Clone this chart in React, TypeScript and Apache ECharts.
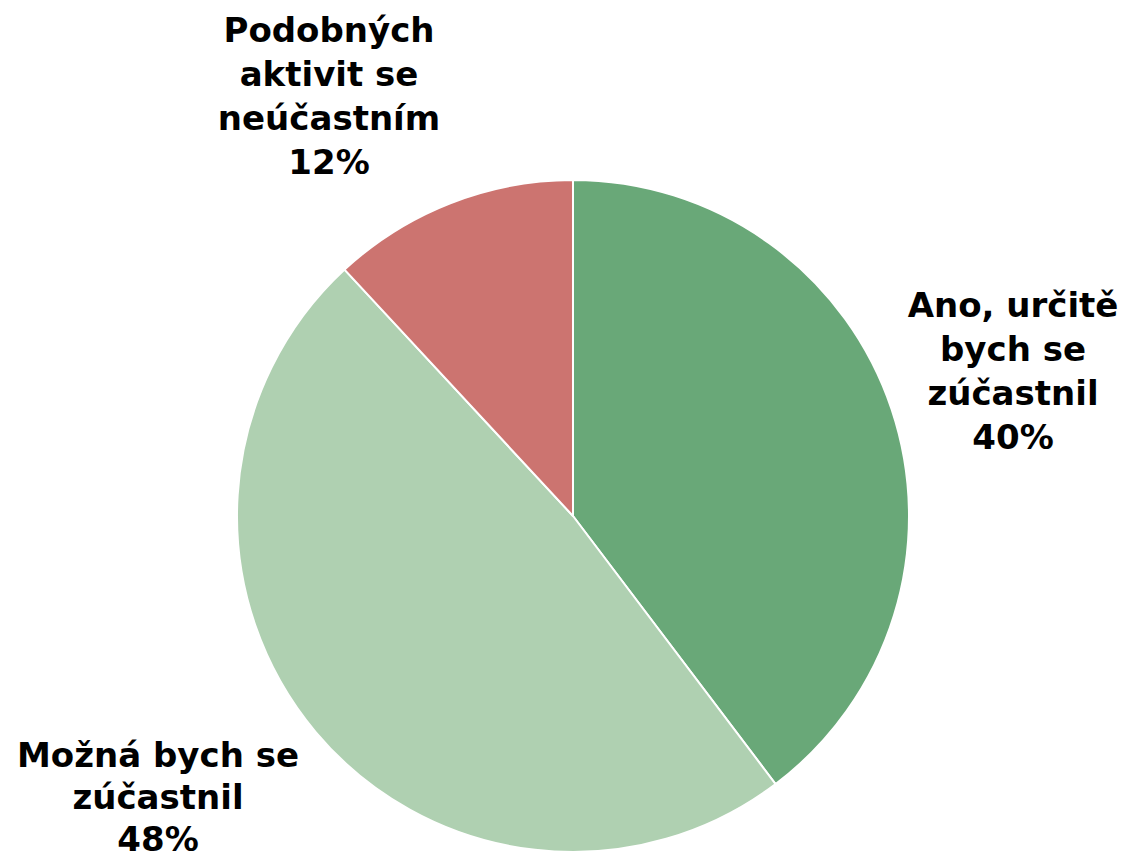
import React, { useEffect, useRef } from "react";
import * as echarts from "echarts";

const categories = [
  "Ano, určitě\nbych se\nzúčastnil",
  "Možná bych se\nzúčastnil",
  "Podobných\naktivit se\nneúčastním",
];
const values = [39.7, 48.4, 11.9];
const colors = ["#69A878", "#AFD0B1", "#CC7470"];
const labelPositions = [
  [1013, 371],
  [158, 797],
  [329, 96],
];
const labelLineHeights = [44, 42, 44];

export default function App() {
  const ref = useRef<HTMLDivElement>(null);
  useEffect(() => {
    if (!ref.current) return;
    const chart = echarts.init(ref.current, undefined, { renderer: "svg" });
    chart.setOption({
      animation: false,
      backgroundColor: "#ffffff",
      series: [
        {
          type: "pie",
          center: [573, 516],
          radius: [0, 336],
          startAngle: 90,
          clockwise: true,
          avoidLabelOverlap: false,
          data: categories.map((name, i) => ({
            name,
            value: values[i],
            itemStyle: { color: colors[i] },
            label: { lineHeight: labelLineHeights[i] },
          })),
          itemStyle: { borderColor: "#ffffff", borderWidth: 2 },
          label: {
            show: true,
            position: "outside",
            formatter: (p: any) => `${p.name}\n${Math.round(p.percent)}%`,
            fontFamily: "DejaVu Sans",
            fontWeight: "bold",
            fontSize: 34,
            lineHeight: 44,
            color: "#000000",
            align: "center",
            overflow: "none",
            width: 400,
          },
          labelLine: { show: false },
          labelLayout: (params: any) => {
            const p = labelPositions[params.dataIndex];
            return { x: p[0], y: p[1], align: "center", verticalAlign: "middle" };
          },
          emphasis: { disabled: true },
        },
      ],
    });
    return () => chart.dispose();
  }, []);
  return (
    <div
      ref={ref}
      style={{ position: "fixed", left: 0, top: 0, width: 1126, height: 860 }}
    />
  );
}
